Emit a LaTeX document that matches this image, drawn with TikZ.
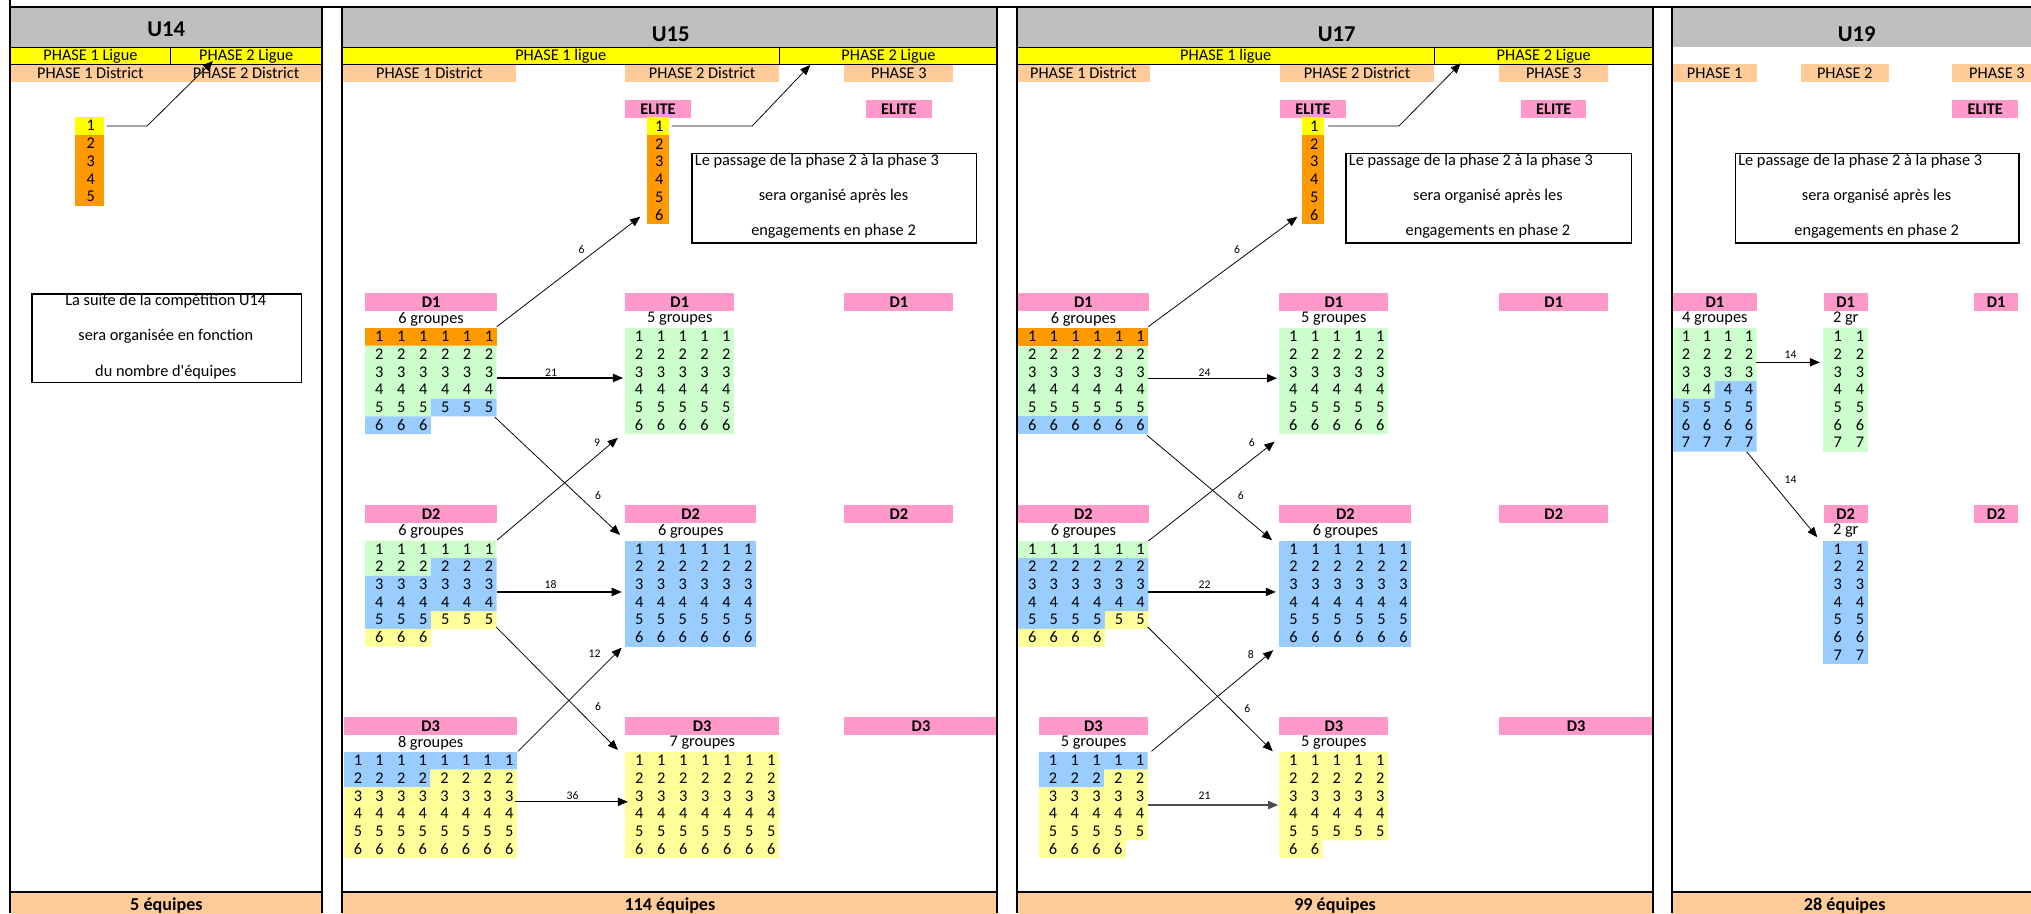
\documentclass[tikz,border=0pt]{standalone}
\usepackage{fontspec}
\setmainfont{Carlito}[Ligatures=TeXOff]
\usetikzlibrary{arrows.meta,positioning}

\definecolor{hdrgray}{HTML}{BFBFBF}
\definecolor{ligueyel}{HTML}{FFFF00}
\definecolor{distpeach}{HTML}{FFCC99}
\definecolor{divpink}{HTML}{FF99CC}
\definecolor{rkorange}{HTML}{FF9900}
\definecolor{rkgreen}{HTML}{CCFFCC}
\definecolor{rkblue}{HTML}{99CCFF}
\definecolor{rkyellow}{HTML}{FFFF99}

\newcommand{\cellfont}{\fontsize{12.6}{14}\selectfont}
\newcommand{\boldfont}{\fontsize{12.6}{14}\selectfont\bfseries}
\newcommand{\titlefont}{\fontsize{17.5}{20}\selectfont\bfseries}
\newcommand{\totalfont}{\fontsize{14}{16}\selectfont\bfseries}
\newcommand{\flowfont}{\fontsize{9}{10}\selectfont}

\tikzset{
  band/.style={inner sep=0, anchor=north west, font=\cellfont},
  ligue/.style={band, fill=ligueyel, draw, line width=0.7pt, minimum height=13.1pt},
  district/.style={band, fill=distpeach, minimum height=13.9pt},
  pinkcell/.style={band, fill=divpink, font=\boldfont, minimum height=13.7pt},
  total/.style={band, fill=distpeach, font=\totalfont, minimum height=20pt},
  title/.style={inner sep=0, font=\titlefont},
  num/.style={inner sep=0, font=\cellfont},
  plain/.style={inner sep=0, font=\cellfont},
  notebox/.style={band, draw, line width=1.1pt},
  frame/.style={line width=1.4pt},
  flow/.style={line width=0.9pt, -{Triangle[length=7.8pt,width=6.4pt]}},
  crossflow/.style={line width=0.6pt, -{Triangle[length=7.8pt,width=6.4pt]}},
  flowlbl/.style={inner sep=0, font=\flowfont},
}

% ranked teams of one division: name, (left,top), cell width, fills, rows
\newcommand{\rankgrid}[5]{%
  \begin{scope}[shift={#2}, x=#3pt, y=-13.65pt]
    #4
    \foreach \r/\n in {#5} {
      \foreach \c in {1,...,\n} {
        \node[num, anchor=east, name=#1-\r-\c] at (\c-0.15,\r-0.52) {\r};
      }
    }
  \end{scope}}

% division header: name, left, right, top, division
\newcommand{\divhead}[5]{%
  \node[pinkcell, minimum width={(#3-#2)*1pt}] (#1) at (#2,#4) {#5};}
\newcommand{\groups}[2]{%
  \node[plain, below=0.4pt of #1] (#1g) {#2};}

% elite ranking column: name, (left,top), width, count
\newcommand{\elitecol}[4]{%
  \begin{scope}[shift={#2}, x=#3pt, y=-13.75pt]
    \fill[ligueyel] (0,0) rectangle (1,1);
    \fill[rkorange] (0,1) rectangle (1,#4);
    \foreach \r in {1,...,#4} {
      \node[num, name=#1-\r] at (0.55,\r-0.52) {\r};
    }
  \end{scope}}

\begin{document}
\begin{tikzpicture}[x=1pt,y=-1pt]
  \clip (0,0) rectangle (1568,705);

  % headers
  \fill[hdrgray] (8,5.4) rectangle (248.6,36.3);
  \fill[hdrgray] (264,5.4) rectangle (770,36.3);
  \fill[hdrgray] (785,5.4) rectangle (1276,36.3);
  \fill[hdrgray] (1291,5.4) rectangle (1576,36.3);
  \node[title] (t14) at (128.3,22.5) {U14};
  \node[title] (t15) at (517.9,26.5) {U15};
  \node[title] (t17) at (1032,26.5) {U17};
  \node[title] (t19) at (1433.4,26.5) {U19};

  % phases
  \node[district, minimum width=123pt] (d14a) at (8,49.4) {PHASE 1 District};
  \node[district, minimum width=117.6pt] (d14b) at (131,49.4) {PHASE 2 District};
  \node[district, minimum width=134.5pt] (d15a) at (264,49.4) {PHASE 1 District};
  \node[district, minimum width=118.6pt] (d15b) at (482.6,49.4) {PHASE 2 District};
  \node[district, minimum width=84pt] (d15c) at (651.7,49.4) {PHASE 3};
  \node[district, minimum width=102.3pt] (d17a) at (785,49.4) {PHASE 1 District};
  \node[district, minimum width=118.7pt] (d17b) at (988.2,49.4) {PHASE 2 District};
  \node[district, minimum width=84.1pt] (d17c) at (1157.3,49.4) {PHASE 3};
  \node[district, minimum width=65.2pt] (d19a) at (1291,49.4) {PHASE 1};
  \node[district, minimum width=68pt] (d19b) at (1390,49.4) {PHASE 2};
  \node[district, minimum width=69pt] (d19c) at (1507,49.4) {PHASE 3};
  \node[ligue, minimum width=123pt] (l14a) at (8,36.3) {PHASE 1 Ligue};
  \node[ligue, minimum width=117.6pt] (l14b) at (131,36.3) {PHASE 2 Ligue};
  \node[ligue, minimum width=337.2pt] (l15a) at (264,36.3) {PHASE 1 ligue};
  \node[ligue, minimum width=168.8pt] (l15b) at (601.2,36.3) {PHASE 2 Ligue};
  \node[ligue, minimum width=321.9pt] (l17a) at (785,36.3) {PHASE 1 ligue};
  \node[ligue, minimum width=169.1pt] (l17b) at (1106.9,36.3) {PHASE 2 Ligue};

  % elite
  \node[pinkcell, minimum width=50.4pt] (e15a) at (482.6,77.2) {ELITE};
  \node[pinkcell, minimum width=50.5pt] (e15b) at (668.5,77.2) {ELITE};
  \node[pinkcell, minimum width=50.4pt] (e17a) at (988.2,77.2) {ELITE};
  \node[pinkcell, minimum width=50.5pt] (e17b) at (1174.1,77.2) {ELITE};
  \node[pinkcell, minimum width=51pt] (e19) at (1507,77.2) {ELITE};
  \elitecol{c14}{(58,90.3)}{22}{5}
  \elitecol{c15}{(499.4,90.6)}{17.4}{6}
  \elitecol{c17}{(1005,90.6)}{17.5}{6}

  % notes
  \node[notebox, minimum width=208pt, minimum height=68.2pt] (n14) at (24,226.5) {};
  \node[plain] (n14a) at (128,232.4) {La suite de la compétition U14};
  \node[plain] (n14b) at (128,259.8) {sera organisée en fonction};
  \node[plain] (n14c) at (128,287.3) {du nombre d'équipes};
  \node[notebox, minimum width=219.5pt, minimum height=69.2pt] (n15) at (533.7,117.9) {};
  \node[plain, anchor=west] (n15a) at (536.3,124.3) {Le passage de la phase 2 à la phase 3};
  \node[plain] (n15b) at (643.5,151.3) {sera organisé après les};
  \node[plain] (n15c) at (643.5,178.3) {engagements en phase 2};
  \node[notebox, minimum width=220.3pt, minimum height=69.2pt] (n17) at (1038.6,117.9) {};
  \node[plain, anchor=west] (n17a) at (1041.2,124.3) {Le passage de la phase 2 à la phase 3};
  \node[plain] (n17b) at (1148.7,151.3) {sera organisé après les};
  \node[plain] (n17c) at (1148.7,178.3) {engagements en phase 2};
  \node[notebox, minimum width=218.5pt, minimum height=69.2pt] (n19) at (1339.5,117.9) {};
  \node[plain, anchor=west] (n19a) at (1341.8,124.3) {Le passage de la phase 2 à la phase 3};
  \node[plain] (n19b) at (1448.8,151.3) {sera organisé après les};
  \node[plain] (n19c) at (1448.8,178.3) {engagements en phase 2};

  % U15 divisions
  \divhead{p15a}{281.8}{383.5}{226.2}{D1} \groups{p15a}{6 groupes}
  \rankgrid{g15a}{(281.8,253.2)}{16.95}{\fill[rkorange] (0,0) rectangle (6,1);
    \fill[rkgreen] (0,1) rectangle (6,4) (0,4) rectangle (3,5);
    \fill[rkblue] (3,4) rectangle (6,5) (0,5) rectangle (3,6);}{1/6,2/6,3/6,4/6,5/6,6/3}
  \divhead{p15b}{482.5}{566.7}{226.2}{D1} \groups{p15b}{5 groupes}
  \rankgrid{g15b}{(482.5,253.2)}{16.84}{\fill[rkgreen] (0,0) rectangle (5,6);}{1/5,2/5,3/5,4/5,5/5,6/5}
  \divhead{p15c}{651.7}{735.7}{226.2}{D1}
  \divhead{p15d}{281.8}{383.5}{389.9}{D2} \groups{p15d}{6 groupes}
  \rankgrid{g15d}{(281.8,417.3)}{16.95}{\fill[rkgreen] (0,0) rectangle (6,1) (0,1) rectangle (3,2);
    \fill[rkblue] (3,1) rectangle (6,2) (0,2) rectangle (6,4) (0,4) rectangle (3,5);
    \fill[rkyellow] (3,4) rectangle (6,5) (0,5) rectangle (3,6);}{1/6,2/6,3/6,4/6,5/6,6/3}
  \divhead{p15e}{482.5}{583.6}{389.9}{D2} \groups{p15e}{6 groupes}
  \rankgrid{g15e}{(482.5,417.3)}{16.85}{\fill[rkblue] (0,0) rectangle (6,6);}{1/6,2/6,3/6,4/6,5/6,6/6}
  \divhead{p15f}{651.7}{735.7}{389.9}{D2}
  \divhead{p15g}{265.6}{399}{553.5}{D3} \groups{p15g}{8 groupes}
  \rankgrid{g15g}{(265.6,580.6)}{16.68}{\fill[rkblue] (0,0) rectangle (8,1) (0,1) rectangle (4,2);
    \fill[rkyellow] (4,1) rectangle (8,2) (0,2) rectangle (8,6);}{1/8,2/8,3/8,4/8,5/8,6/8}
  \divhead{p15h}{482.5}{601.4}{553.5}{D3} \groups{p15h}{7 groupes}
  \rankgrid{g15h}{(482.5,580.6)}{16.99}{\fill[rkyellow] (0,0) rectangle (7,6);}{1/7,2/7,3/7,4/7,5/7,6/7}
  \divhead{p15i}{651.7}{770}{553.5}{D3}

  % U17 divisions
  \divhead{p17a}{786}{886.5}{226.2}{D1} \groups{p17a}{6 groupes}
  \rankgrid{g17a}{(786,253.2)}{16.75}{\fill[rkorange] (0,0) rectangle (6,1);
    \fill[rkgreen] (0,1) rectangle (6,5);
    \fill[rkblue] (0,5) rectangle (6,6);}{1/6,2/6,3/6,4/6,5/6,6/6}
  \divhead{p17b}{987.5}{1071.6}{226.2}{D1} \groups{p17b}{5 groupes}
  \rankgrid{g17b}{(987.5,253.2)}{16.82}{\fill[rkgreen] (0,0) rectangle (5,6);}{1/5,2/5,3/5,4/5,5/5,6/5}
  \divhead{p17c}{1157.3}{1241.4}{226.2}{D1}
  \divhead{p17d}{786}{886.5}{389.9}{D2} \groups{p17d}{6 groupes}
  \rankgrid{g17d}{(786,417.3)}{16.75}{\fill[rkgreen] (0,0) rectangle (6,1);
    \fill[rkblue] (0,1) rectangle (6,4) (0,4) rectangle (4,5);
    \fill[rkyellow] (4,4) rectangle (6,5) (0,5) rectangle (4,6);}{1/6,2/6,3/6,4/6,5/6,6/4}
  \divhead{p17e}{987.5}{1089.5}{389.9}{D2} \groups{p17e}{6 groupes}
  \rankgrid{g17e}{(987.5,417.3)}{17}{\fill[rkblue] (0,0) rectangle (6,6);}{1/6,2/6,3/6,4/6,5/6,6/6}
  \divhead{p17f}{1157.3}{1241.4}{389.9}{D2}
  \divhead{p17g}{802}{886}{553.5}{D3} \groups{p17g}{5 groupes}
  \rankgrid{g17g}{(802,580.6)}{16.8}{\fill[rkblue] (0,0) rectangle (5,1) (0,1) rectangle (3,2);
    \fill[rkyellow] (3,1) rectangle (5,2) (0,2) rectangle (5,5) (0,5) rectangle (4,6);}{1/5,2/5,3/5,4/5,5/5,6/4}
  \divhead{p17h}{987.5}{1071.6}{553.5}{D3} \groups{p17h}{5 groupes}
  \rankgrid{g17h}{(987.5,580.6)}{16.82}{\fill[rkyellow] (0,0) rectangle (5,5) (0,5) rectangle (2,6);}{1/5,2/5,3/5,4/5,5/5,6/2}
  \divhead{p17i}{1157.3}{1276}{553.5}{D3}

  % U19 divisions
  \divhead{p19a}{1291.3}{1356.2}{226.2}{D1} \groups{p19a}{4 groupes}
  \rankgrid{g19a}{(1291.3,253.2)}{16.22}{\fill[rkgreen] (0,0) rectangle (4,3) (0,3) rectangle (2,4);
    \fill[rkblue] (2,3) rectangle (4,4) (0,4) rectangle (4,7);}{1/4,2/4,3/4,4/4,5/4,6/4,7/4}
  \divhead{p19b}{1407.6}{1441.9}{226.2}{D1} \groups{p19b}{2 gr}
  \rankgrid{g19b}{(1407.6,253.2)}{17.15}{\fill[rkgreen] (0,0) rectangle (2,7);}{1/2,2/2,3/2,4/2,5/2,6/2,7/2}
  \divhead{p19c}{1524}{1557.7}{226.2}{D1}
  \divhead{p19d}{1407.6}{1441.9}{389.9}{D2} \groups{p19d}{2 gr}
  \rankgrid{g19d}{(1407.6,417.3)}{17.15}{\fill[rkblue] (0,0) rectangle (2,7);}{1/2,2/2,3/2,4/2,5/2,6/2,7/2}
  \divhead{p19e}{1524}{1557.7}{389.9}{D2}

  % totals
  \node[total, minimum width=240.6pt] (s14) at (8,688.7) {5 équipes};
  \node[total, minimum width=506pt] (s15) at (264,688.7) {114 équipes};
  \node[total, minimum width=491pt] (s17) at (785,688.7) {99 équipes};
  \node[total, minimum width=266pt] (s19) at (1291,688.7) {28 équipes};
  \fill[distpeach] (1557,688.7) rectangle (1576,710);

  % frames
  \draw[frame] (8,0) -- (8,705);
  \draw[frame] (8,5.4) -- (1568,5.4);
  \foreach \x in {248.6,264,770,785,1276,1291} {
    \draw[frame] (\x,5.4) -- (\x,705);
  }
  \foreach \l/\r in {8/248.6,264/770,785/1276,1291/1576} {
    \draw[frame] (\l,688.7) -- (\r,688.7);
  }

  % U14 flows
  \coordinate (q14a) at (82.6,97.3);
  \coordinate (q14b) at (113.5,97.3);
  \coordinate (q14c) at (164.4,47.1);
  \draw[crossflow] (q14a) -- (q14b) -- (q14c);

  % U15 flows
  \coordinate (q15a) at (518.5,97.3);
  \coordinate (q15b) at (580.7,97.3);
  \coordinate (q15c) at (625.5,50.2);
  \draw[crossflow] (q15a) -- (q15b) -- (q15c);
  \coordinate (u15s1) at (383.5,252.2);  \coordinate (u15t1) at (494.3,167.3);
  \coordinate (u15s2) at (383.5,291.8);  \coordinate (u15t2) at (481,291.8);
  \coordinate (u15s3) at (382,322);      \coordinate (u15t3) at (478.7,413);
  \coordinate (u15s4) at (383.7,417);    \coordinate (u15t4) at (477,338);
  \coordinate (u15s5) at (383.5,457);    \coordinate (u15t5) at (480,457);
  \coordinate (u15s6) at (383,484);      \coordinate (u15t6) at (477,579);
  \coordinate (u15s7) at (400,580);      \coordinate (u15t7) at (480,500);
  \coordinate (u15s8) at (397.6,619);    \coordinate (u15t8) at (484.8,619);
  \draw[crossflow] (u15s1) -- (u15t1);
  \draw[flow] (u15s2) -- (u15t2);
  \draw[crossflow] (u15s3) -- (u15t3);
  \draw[crossflow] (u15s4) -- (u15t4);
  \draw[flow] (u15s5) -- (u15t5);
  \draw[crossflow] (u15s6) -- (u15t6);
  \draw[crossflow] (u15s7) -- (u15t7);
  \draw[flow] (u15s8) -- (u15t8);
  \node[flowlbl] (f15a) at (449,193) {6};
  \node[flowlbl] (f15b) at (425.4,287.5) {21};
  \node[flowlbl] (f15c) at (461.7,383) {6};
  \node[flowlbl] (f15d) at (461,342) {9};
  \node[flowlbl] (f15e) at (425,451.5) {18};
  \node[flowlbl] (f15f) at (461.7,545.8) {6};
  \node[flowlbl] (f15g) at (459,505) {12};
  \node[flowlbl] (f15h) at (442,614.5) {36};

  % U17 flows
  \coordinate (q17a) at (1025.2,97.3);
  \coordinate (q17b) at (1080,97.3);
  \coordinate (q17c) at (1127.7,48.9);
  \draw[crossflow] (q17a) -- (q17b) -- (q17c);
  \coordinate (u17s1) at (886.5,252.2);  \coordinate (u17t1) at (1001.6,167.3);
  \coordinate (u17s2) at (886.5,292);    \coordinate (u17t2) at (986,292);
  \coordinate (u17s3) at (885.5,336);    \coordinate (u17t3) at (982,417);
  \coordinate (u17s4) at (886.5,417.7);  \coordinate (u17t4) at (984,341);
  \coordinate (u17s5) at (886.5,457);    \coordinate (u17t5) at (985,457);
  \coordinate (u17s6) at (886,484);      \coordinate (u17t6) at (982.6,580);
  \coordinate (u17s7) at (889,580);      \coordinate (u17t7) at (983,502);
  \coordinate (u17s8) at (886,621.5);    \coordinate (u17t8) at (986.8,621.5);
  \draw[crossflow] (u17s1) -- (u17t1);
  \draw[flow] (u17s2) -- (u17t2);
  \draw[crossflow] (u17s3) -- (u17t3);
  \draw[crossflow] (u17s4) -- (u17t4);
  \draw[flow] (u17s5) -- (u17t5);
  \draw[crossflow] (u17s6) -- (u17t6);
  \draw[crossflow] (u17s7) -- (u17t7);
  \draw[flow, draw=black!70] (u17s8) -- (u17t8);
  \node[flowlbl] (f17a) at (955,193) {6};
  \node[flowlbl] (f17b) at (930,288) {24};
  \node[flowlbl] (f17c) at (958,383) {6};
  \node[flowlbl] (f17d) at (966.4,342) {6};
  \node[flowlbl] (f17e) at (930,451.5) {22};
  \node[flowlbl] (f17f) at (963,546.8) {6};
  \node[flowlbl] (f17g) at (965.6,505) {8};
  \node[flowlbl] (f17h) at (930,614.5) {21};

  % U19 flows
  \coordinate (u19s1) at (1355.7,279.7);  \coordinate (u19t1) at (1405,279.7);
  \coordinate (u19s2) at (1348.5,348.7);  \coordinate (u19t2) at (1403,414.8);
  \draw[flow] (u19s1) -- (u19t1);
  \draw[crossflow] (u19s2) -- (u19t2);
  \node[flowlbl] (f19a) at (1382.4,273.5) {14};
  \node[flowlbl] (f19b) at (1382.4,370) {14};
\end{tikzpicture}
\end{document}
